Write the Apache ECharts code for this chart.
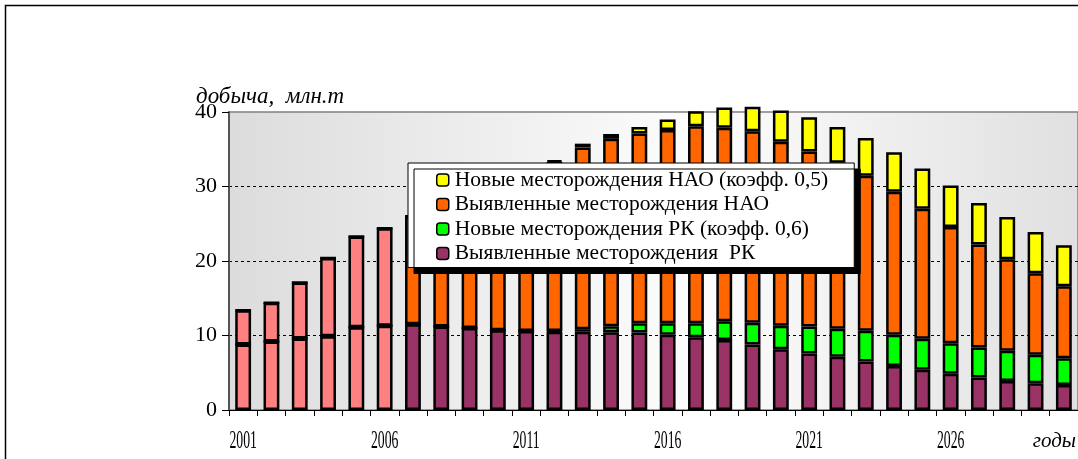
<!DOCTYPE html>
<html><head><meta charset="utf-8">
<script src="https://cdn.jsdelivr.net/npm/echarts@6/dist/echarts.min.js"></script>
<style>html,body{margin:0;padding:0;background:#fff}#c{width:1078px;height:459px}</style>
</head><body><div id="c"></div>
<script>
const years = ['2001','2002','2003','2004','2005','2006','2007','2008','2009','2010',
  '2011','2012','2013','2014','2015','2016','2017','2018','2019','2020',
  '2021','2022','2023','2024','2025','2026','2027','2028','2029','2030'];
const factYears = ['2001','2002','2003','2004','2005','2006'];
const tickLabels = ['2001','2006','2011','2016','2021','2026'];

const rkExisting = [8.8, 9.2, 9.6, 9.9, 11.1, 11.3, 11.5, 11.2, 11.0, 10.7,
  10.6, 10.5, 10.5, 10.45, 10.4, 10.1, 9.75, 9.4, 8.8, 8.15,
  7.6, 7.15, 6.5, 5.9, 5.4, 4.85, 4.35, 3.9, 3.6, 3.35];
const rkNew = [0, 0, 0, 0, 0, 0, 0, 0, 0, 0,
  0, 0.1, 0.35, 0.8, 1.25, 1.55, 1.9, 2.5, 2.9, 3.15,
  3.6, 3.75, 4.15, 4.2, 4.15, 4.1, 4.05, 4.05, 3.8, 3.6];
const naoExisting = [4.6, 5.2, 7.5, 10.5, 12.2, 13.1, 14.5, 16.6, 18.4, 20.2,
  21.7, 22.7, 24.4, 25.15, 25.45, 25.95, 26.45, 26.0, 25.7, 24.7,
  23.5, 22.3, 20.8, 19.2, 17.45, 15.6, 13.8, 12.3, 10.95, 9.65];
const naoNew = [0, 0, 0, 0, 0, 0, 0, 0, 0, 0,
  0, 0.2, 0.5, 0.65, 0.9, 1.4, 2.0, 2.7, 3.3, 4.2,
  4.6, 4.8, 5.05, 5.3, 5.4, 5.6, 5.6, 5.65, 5.55, 5.5];

const names = {
  naoNew: 'Новые месторождения НАО (коэфф. 0,5)',
  naoEx: 'Выявленные месторождения НАО',
  rkNew: 'Новые месторождения РК (коэфф. 0,6)',
  rkEx: 'Выявленные месторождения  РК'
};
const FACT = '#FF8080';
const serif = '"Liberation Serif", "Times New Roman", serif';

function withFact(arr) {
  return arr.map((v, i) => factYears.indexOf(years[i]) >= 0
    ? { value: v, itemStyle: { color: FACT } } : v);
}
function bar(name, data, color) {
  return {
    name, type: 'bar', stack: 'total', data, barWidth: '56%', clip: false,
    itemStyle: { color, borderColor: '#000', borderWidth: 2.5 },
    emphasis: { disabled: true }
  };
}

const chart = echarts.init(document.getElementById('c'));
chart.setOption({
  animation: false,
  grid: {
    left: 229, top: 112, right: -3, bottom: 49, show: true,
    borderColor: '#808080', borderWidth: 1.5,
    backgroundColor: { type: 'linear', x: 0, y: 0, x2: 1, y2: 0,
      colorStops: [{ offset: 0, color: '#dcdcdc' }, { offset: 0.55, color: '#fdfdfd' }, { offset: 1, color: '#e0e0e0' }] }
  },
  legend: {
    orient: 'vertical', left: 408, top: 163,
    data: [names.naoNew, names.naoEx, names.rkNew, names.rkEx],
    backgroundColor: '#fff', borderColor: '#000', borderWidth: 1,
    shadowColor: '#000', shadowOffsetX: 6, shadowOffsetY: 6, shadowBlur: 0,
    padding: [6, 26, 3, 28], itemGap: 2.5, itemWidth: 12, itemHeight: 12,
    itemStyle: { borderWidth: 1.5, borderColor: '#000' },
    textStyle: { fontFamily: serif, fontSize: 21.5, lineHeight: 22, color: '#000', padding: [0, 0, 0, 1] },
    selectedMode: false
  },
  xAxis: {
    type: 'category', data: years,
    axisLine: { lineStyle: { color: '#000', width: 1 } },
    axisTick: { show: true, interval: 0, length: 6, lineStyle: { color: '#000' } },
    axisLabel: { show: false }
  },
  yAxis: {
    type: 'value', min: 0, max: 40, interval: 10,
    axisLine: { show: true, lineStyle: { color: '#555', width: 2 } },
    axisTick: { show: true, length: 7, lineStyle: { color: '#000' } },
    axisLabel: { fontFamily: serif, fontSize: 22, color: '#000', margin: 12 },
    splitLine: { show: true, showMinLine: false, showMaxLine: false,
      lineStyle: { color: '#000', type: [3, 3], width: 1 } }
  },
  series: [
    bar(names.rkEx, withFact(rkExisting), '#993366'),
    bar(names.rkNew, rkNew, '#00FF00'),
    bar(names.naoEx, withFact(naoExisting), '#FF6600'),
    bar(names.naoNew, naoNew, '#FFFF00')
  ]
});

const baseY = chart.convertToPixel({ yAxisIndex: 0 }, 0);
const graphics = [
  { type: 'rect', shape: { x: 5.5, y: 5.5, width: 1300, height: 700 },
    style: { fill: 'none', stroke: '#000', lineWidth: 1.5 }, z: 100 },
  { type: 'text', x: 196, y: 97,
    style: { text: 'добыча,  млн.т', fontStyle: 'italic', fontSize: 23, fontFamily: serif, fill: '#000', verticalAlign: 'middle' }, z: 100 },
  { type: 'text', x: 1076, y: baseY + 31,
    style: { text: 'годы', fontStyle: 'italic', fontSize: 21, fontFamily: serif, fill: '#000', align: 'right', verticalAlign: 'middle' }, z: 100 }
];
tickLabels.forEach(t => {
  const px = chart.convertToPixel({ xAxisIndex: 0 }, t);
  graphics.push({ type: 'text', x: px, y: baseY + 31, scaleX: 0.55, scaleY: 1,
    style: { text: t, fontSize: 25, fontFamily: serif, fill: '#000', align: 'center', verticalAlign: 'middle' }, z: 100 });
});
chart.setOption({ graphic: graphics });
</script></body></html>
